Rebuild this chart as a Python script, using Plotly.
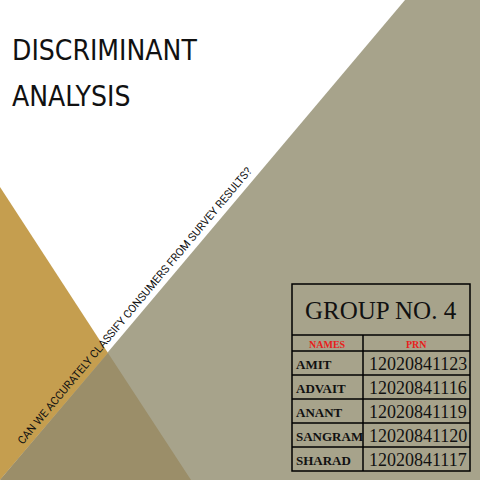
"""Title slide: discriminant analysis"""
import plotly.graph_objects as go

title_lines = ["DISCRIMINANT", "ANALYSIS"]
subtitle = "CAN WE ACCURATELY CLASSIFY CONSUMERS FROM SURVEY RESULTS?"
group_label = "GROUP NO. 4"
header = ["NAMES", "PRN"]
names = ["AMIT", "ADVAIT", "ANANT", "SANGRAM", "SHARAD"]
prns = ["12020841123", "12020841116", "12020841119", "12020841120", "12020841117"]

GREY = "#a7a38b"
GOLD = "#c59e4f"
DARK = "#9b8e69"


def poly(pts, color):
    path = "M " + " L ".join(f"{x},{y}" for x, y in pts) + " Z"
    return dict(type="path", path=path, fillcolor=color, line=dict(width=0), layer="below")


def main():
    fig = go.Figure()
    shapes = [
        poly([(405, 0), (480, 0), (480, 480), (0, 480)], GREY),
        poly([(0, 187), (108, 353), (0, 480)], GOLD),
        poly([(0, 480), (108, 353), (191, 480)], DARK),
    ]

    # table geometry
    x0, xm, x1 = 292, 363, 470
    y_top, y_head, y_rows = 284, 335, 351
    row_h = 24
    y_bot = y_rows + row_h * len(names)
    line = dict(color="black", width=1.5)
    shapes.append(dict(type="rect", x0=x0, x1=x1, y0=y_top, y1=y_bot, line=line))
    shapes.append(dict(type="line", x0=x0, x1=x1, y0=y_head, y1=y_head, line=line))
    shapes.append(dict(type="line", x0=xm, x1=xm, y0=y_head, y1=y_bot, line=line))
    for i in range(len(names)):
        y = y_rows + row_h * i
        shapes.append(dict(type="line", x0=x0, x1=x1, y0=y, y1=y, line=line))

    annotations = []
    for i, t in enumerate(title_lines):
        annotations.append(dict(x=10, y=50 + 46 * i, text=t, showarrow=False, xanchor="left",
                                font=dict(family="DejaVu Sans Condensed, Roboto", size=28,
                                          color="#111")))
    annotations.append(dict(x=134, y=306, text=subtitle, showarrow=False, textangle=-50,
                            font=dict(family="Roboto", size=11, color="#111")))
    annotations.append(dict(x=(x0 + x1) / 2, y=(y_top + y_head) / 2 + 1, text=group_label,
                            showarrow=False,
                            font=dict(family="Liberation Serif", size=25, color="#111")))
    for cx, h in zip([(x0 + xm) / 2, (xm + x1) / 2], header):
        annotations.append(dict(x=cx, y=(y_head + y_rows) / 2 + 1, text=f"<b>{h}</b>",
                                showarrow=False,
                                font=dict(family="Liberation Serif", size=10, color="#e8201c")))
    for i, (n, p) in enumerate(zip(names, prns)):
        cy = y_rows + row_h * i + row_h / 2 + 1
        annotations.append(dict(x=x0 + 2, y=cy, text=f"<b>{n}</b>", showarrow=False,
                                xanchor="left",
                                font=dict(family="Liberation Serif", size=13, color="#111")))
        annotations.append(dict(x=(xm + x1) / 2 + 1, y=cy, text=p, showarrow=False,
                                font=dict(family="Liberation Serif", size=18, color="#111")))

    fig.update_layout(
        width=480, height=480, margin=dict(l=0, r=0, t=0, b=0),
        paper_bgcolor="white", plot_bgcolor="white", showlegend=False,
        shapes=shapes, annotations=annotations,
        xaxis=dict(range=[0, 480], visible=False, fixedrange=True),
        yaxis=dict(range=[480, 0], visible=False, fixedrange=True),
    )
    fig.write_html("out.html", config={"displayModeBar": False},
                   post_script="document.body.style.margin='0';")


if __name__ == "__main__":
    main()
